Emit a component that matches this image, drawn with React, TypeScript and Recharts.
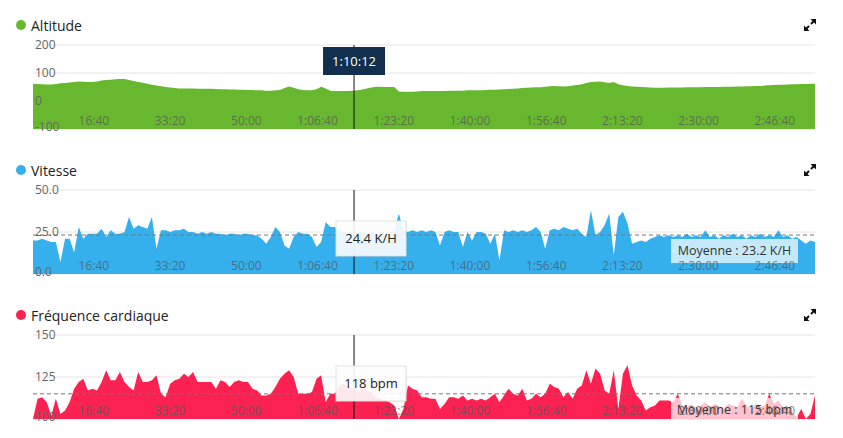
import React from "react";
import { AreaChart, Area, XAxis, YAxis, CartesianGrid, ReferenceLine } from "recharts";

// one sample per minute of the ride
const STEP = 60;

const ALTITUDE = [
  62, 61, 60, 59, 59, 61, 63, 64, 66, 68,
  70, 69, 68, 68, 70, 73, 75, 76, 78, 79,
  79, 75, 71, 68, 65, 62, 58, 55, 53, 50,
  48, 46, 45, 45, 45, 45, 44, 44, 44, 44,
  43, 42, 42, 41, 41, 40, 40, 39, 39, 38,
  38, 37, 37, 38, 39, 46, 52, 47, 42, 39,
  38, 38, 42, 51, 45, 37, 36, 36, 36, 36,
  37, 38, 41, 45, 48, 51, 51, 50, 50, 50,
  34, 33, 33, 33, 34, 36, 36, 36, 36, 36,
  36, 37, 37, 37, 37, 38, 38, 38, 38, 39,
  40, 40, 41, 42, 43, 44, 45, 46, 47, 48,
  49, 49, 51, 53, 54, 53, 52, 53, 55, 57,
  60, 64, 68, 69, 70, 67, 64, 68, 60, 56,
  54, 52, 51, 50, 49, 48, 47, 47, 47, 48,
  48, 48, 48, 49, 49, 49, 49, 50, 50, 50,
  50, 51, 51, 51, 52, 52, 53, 53, 54, 54,
  55, 56, 57, 58, 58, 59, 60, 60, 61, 61,
  62, 62,
];

const SPEED = [
  20, 20, 21, 20, 19, 19, 7, 21, 21, 13,
  28, 21, 24, 24, 24, 27, 22, 26, 24, 24,
  25, 34, 27, 29, 28, 27, 34, 15, 26, 26,
  25, 26, 26, 27, 25, 25, 24, 25, 24, 25,
  24, 24, 23, 24, 24, 23, 24, 24, 23, 23,
  21, 18, 22, 28, 25, 17, 15, 22, 25, 24,
  24, 22, 16, 19, 31, 28, 28, 26, 25, 25,
  24.4, 25, 25, 24, 25, 24, 25, 24, 25, 26,
  36, 26, 25, 26, 25, 26, 25, 26, 25, 17,
  25, 26, 25, 25, 16, 25, 20, 25, 25, 24,
  18, 24, 8, 26, 25, 26, 25, 26, 25, 26,
  28, 25, 15, 26, 27, 26, 28, 27, 26, 27,
  24, 22, 38, 23, 25, 29, 36, 11, 34, 37,
  30, 18, 19, 20, 19, 21, 22, 23, 22, 23,
  22, 23, 22, 24, 22, 23, 22, 26, 22, 23,
  21, 23, 22, 24, 22, 23, 21, 23, 22, 24,
  22, 23, 22, 26, 22, 23, 21, 22, 20, 18,
  20, 19,
];

const HEART = [
  100, 112, 113, 110, 102, 112, 103, 105, 110, 118,
  122, 124, 117, 118, 117, 122, 129, 123, 123, 128,
  122, 119, 117, 128, 122, 122, 123, 126, 115, 113,
  121, 123, 124, 127, 125, 128, 122, 122, 122, 122,
  118, 123, 122, 119, 122, 123, 122, 122, 118, 117,
  114, 114, 115, 119, 124, 127, 129, 125, 115, 115,
  115, 116, 124, 126, 110, 115, 115, 120, 121, 119,
  118, 117, 118, 117, 116, 113, 112, 111, 110, 108,
  100, 106, 120, 118, 117, 113, 113, 112, 112, 106,
  109, 113, 113, 112, 114, 111, 112, 111, 112, 111,
  113, 115, 110, 114, 118, 115, 114, 118, 111, 112,
  115, 113, 115, 121, 119, 118, 113, 116, 112, 118,
  120, 129, 121, 130, 127, 117, 115, 129, 106, 127,
  132, 120, 114, 111, 105, 107, 108, 111, 111, 111,
  110, 115, 108, 107, 109, 106, 108, 110, 107, 109,
  108, 106, 109, 108, 107, 112, 108, 106, 109, 107,
  108, 115, 109, 111, 107, 106, 104, 101, 106, 100,
  103, 114,
];

const TIME_TICKS = [1000, 2000, 3000, 4000, 5000, 6000, 7000, 8000, 9000, 10000];
const ALT_TICKS = [-100, 0, 100, 200];
const SPEED_TICKS = [0, 25, 50];
const HEART_TICKS = [100, 125, 150];

const CURSOR_T = 4212;
const SPEED_AT_CURSOR = "24.4 K/H";
const HEART_AT_CURSOR = "118 bpm";
const SPEED_AVG = 23.2;
const HEART_AVG = 115;

const DATA = ALTITUDE.map((alt, i) => ({
  t: i * STEP,
  alt,
  speed: SPEED[i],
  hr: HEART[i],
}));

const W = 843;
const LEFT = 33;
const RIGHT = 28;
const MT = 10;
const PLOT_H = 84;
const FONT = "'Open Sans', sans-serif";

function fmtTime(s: number) {
  const h = Math.floor(s / 3600);
  const m = Math.floor((s % 3600) / 60);
  const sec = s % 60;
  const ss = String(sec).padStart(2, "0");
  if (h > 0) return `${h}:${String(m).padStart(2, "0")}:${ss}`;
  return `${m}:${ss}`;
}

const TimeTick = (props: any) => (
  <text
    x={props.x}
    y={MT + PLOT_H - 4}
    textAnchor="end"
    fontSize={12}
    fontFamily={FONT}
    fill="#555"
    fillOpacity={0.75}
  >
    {fmtTime(props.payload.value)}
  </text>
);

function ExpandIcon({ top }: { top: number }) {
  return (
    <svg
      width={14}
      height={14}
      viewBox="0 0 14 14"
      style={{ position: "absolute", left: 803, top }}
    >
      <path d="M7.5 1 H13 V6.5 Z" fill="#111" />
      <path d="M12.5 1.5 L8 6" stroke="#111" strokeWidth={2} />
      <path d="M1 7.5 V13 H6.5 Z" fill="#111" />
      <path d="M1.5 12.5 L6 8" stroke="#111" strokeWidth={2} />
    </svg>
  );
}

type PanelProps = {
  plotTop: number;
  titleY: number;
  title: string;
  color: string;
  dataKey: string;
  domain: [number, number];
  yTicks: number[];
  yFmt: (v: number) => string;
  cursorText: string;
  dark?: boolean;
  avg?: number;
  avgText?: string;
};

function Panel(p: PanelProps) {
  const svgH = MT + PLOT_H + 6;
  const plotBottom = MT + PLOT_H;
  return (
    <>
      <div
        style={{
          position: "absolute",
          left: 16,
          top: p.titleY - 5,
          width: 10,
          height: 10,
          borderRadius: "50%",
          background: p.color,
        }}
      />
      <div
        style={{
          position: "absolute",
          left: 31,
          top: p.titleY - 9,
          fontSize: 14,
          lineHeight: "20px",
          color: "#222",
        }}
      >
        {p.title}
      </div>
      <ExpandIcon top={p.titleY - 7} />
      <div style={{ position: "absolute", left: 0, top: p.plotTop - MT }}>
        <AreaChart
          width={W}
          height={svgH}
          data={DATA}
          margin={{ top: MT, right: RIGHT, bottom: 6, left: LEFT }}
        >
          <CartesianGrid horizontal vertical={false} stroke="#e4e4e4" />
          <Area
            dataKey={p.dataKey}
            type="linear"
            stroke="none"
            fill={p.color}
            fillOpacity={1}
            baseValue="dataMin"
            dot={false}
            activeDot={false}
            isAnimationActive={false}
          />
          <XAxis
            dataKey="t"
            type="number"
            domain={[0, "dataMax"]}
            ticks={TIME_TICKS}
            interval={0}
            mirror
            axisLine={false}
            tickLine={false}
            tick={TimeTick}
          />
          <YAxis
            type="number"
            domain={p.domain}
            ticks={p.yTicks}
            interval={0}
            mirror
            allowDataOverflow
            axisLine={false}
            tickLine={false}
            tick={(t: any) => (
              <text
                x={LEFT + 2}
                y={Math.min(t.y, plotBottom - 1.5)}
                dy={3.5}
                fontSize={12}
                fontFamily={FONT}
                fill="#666"
              >
                {p.yFmt(t.payload.value)}
              </text>
            )}
          />
          {p.avg !== undefined && (
            <ReferenceLine
              y={p.avg}
              stroke="#777"
              strokeDasharray="4 3"
              label={(l: any) => {
                const vb = l.viewBox;
                const bx = vb.x + vb.width - 17 - 127;
                const by = vb.y + 4;
                const bh = Math.min(24, plotBottom - by);
                return (
                  <g>
                    <rect x={bx} y={by} width={127} height={bh} fill="#fff" fillOpacity={0.72} />
                    <text
                      x={bx + 63.5}
                      y={by + 16}
                      textAnchor="middle"
                      fontSize={12.5}
                      fontFamily={FONT}
                      fill="#333"
                    >
                      {p.avgText}
                    </text>
                  </g>
                );
              }}
            />
          )}
          <ReferenceLine
            x={CURSOR_T}
            stroke="#111"
            label={(l: any) => {
              const vb = l.viewBox;
              if (p.dark) {
                const bx = vb.x - 31;
                const by = vb.y + 2;
                return (
                  <g>
                    <rect x={bx} y={by} width={62} height={28} fill="#12304d" />
                    <text
                      x={vb.x}
                      y={by + 18.5}
                      textAnchor="middle"
                      fontSize={13}
                      fontFamily={FONT}
                      fill="#fff"
                    >
                      {p.cursorText}
                    </text>
                  </g>
                );
              }
              const bx = vb.x - 18;
              const by = vb.y + 31;
              return (
                <g>
                  <rect x={bx + 1} y={by + 1} width={70} height={35} fill="#000" fillOpacity={0.08} />
                  <rect x={bx} y={by} width={70} height={35} fill="#fff" fillOpacity={0.9} stroke="#e2e2e2" />
                  <text
                    x={bx + 35}
                    y={by + 22}
                    textAnchor="middle"
                    fontSize={13}
                    fontFamily={FONT}
                    fill="#222"
                  >
                    {p.cursorText}
                  </text>
                </g>
              );
            }}
          />
        </AreaChart>
      </div>
    </>
  );
}

export default function App() {
  return (
    <div
      style={{
        position: "absolute",
        left: 0,
        top: 0,
        width: W,
        height: 438,
        background: "#fff",
        fontFamily: FONT,
        overflow: "hidden",
      }}
    >
      <Panel
        plotTop={45}
        titleY={25}
        title="Altitude"
        color="#68b82f"
        dataKey="alt"
        domain={[-100, 200]}
        yTicks={ALT_TICKS}
        yFmt={(v) => String(v)}
        cursorText={fmtTime(CURSOR_T)}
        dark
      />
      <Panel
        plotTop={190}
        titleY={170}
        title="Vitesse"
        color="#35b0ec"
        dataKey="speed"
        domain={[0, 50]}
        yTicks={SPEED_TICKS}
        yFmt={(v) => v.toFixed(1)}
        cursorText={SPEED_AT_CURSOR}
        avg={SPEED_AVG}
        avgText={`Moyenne : ${SPEED_AVG.toFixed(1)} K/H`}
      />
      <Panel
        plotTop={335}
        titleY={315}
        title="Fréquence cardiaque"
        color="#fb2151"
        dataKey="hr"
        domain={[100, 150]}
        yTicks={HEART_TICKS}
        yFmt={(v) => String(v)}
        cursorText={HEART_AT_CURSOR}
        avg={HEART_AVG}
        avgText={`Moyenne : ${HEART_AVG} bpm`}
      />
    </div>
  );
}
